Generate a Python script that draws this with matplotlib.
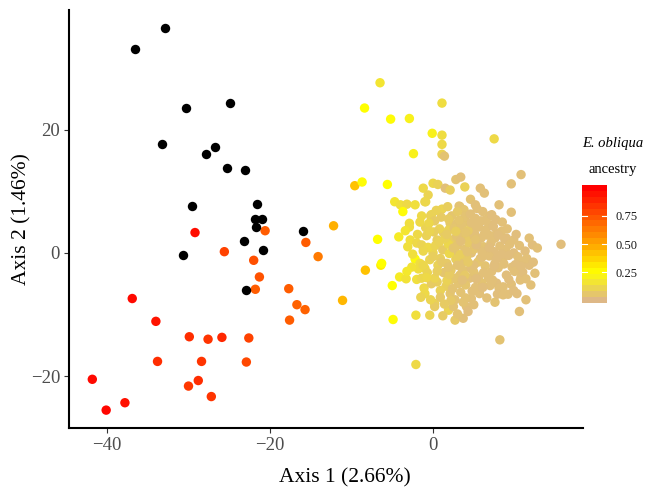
import matplotlib

matplotlib.use("Agg")
import matplotlib.pyplot as plt
import numpy as np
from matplotlib.colors import LinearSegmentedColormap

plt.rcParams["font.family"] = ["Liberation Serif", "DejaVu Serif"]

# pure E. obliqua individuals (drawn black)
black_x = [-36.6, -32.9, -30.3, -24.9, -33.3, -26.8, -27.9, -25.3, -23.1, -29.6,
           -21.6, -21.8, -21.0, -21.7, -16.0, -23.2, -20.9, -30.7, -22.9]
black_y = [33.0, 36.5, 23.5, 24.3, 17.6, 17.2, 16.1, 13.8, 13.5, 7.6,
           7.9, 5.5, 5.5, 4.2, 3.5, 2.0, 0.5, -0.4, -6.0]

# hybrid group left of the main cloud
hyb_x = [-29.2, -20.6, -25.6, -22.0, -15.6, -14.1, -12.2, -21.3, -21.8, -17.7,
         -16.7, -15.7, -17.6, -11.1, -36.9, -34.0, -29.9, -27.6, -25.9, -22.6,
         -33.8, -28.4, -22.9, -41.8, -30.0, -28.8, -27.2, -37.8, -40.1]
hyb_y = [3.3, 3.6, 0.2, -1.2, 1.7, -0.6, 4.4, -3.9, -5.9, -5.8,
         -8.4, -9.2, -10.9, -7.7, -7.4, -11.1, -13.6, -14.0, -13.7, -13.8,
         -17.6, -17.6, -17.7, -20.5, -21.6, -20.7, -23.3, -24.3, -25.5]
hyb_anc = [0.96, 0.72, 0.80, 0.76, 0.72, 0.63, 0.47, 0.75, 0.72, 0.72,
           0.70, 0.70, 0.72, 0.45, 0.97, 0.94, 0.86, 0.84, 0.88, 0.80,
           0.86, 0.84, 0.78, 0.97, 0.83, 0.86, 0.84, 0.95, 0.98]

# main cloud
cloud_x = [-6.5, -8.4, -5.2, -2.9, 1.1, -0.1, 1.1, 1.1, -2.4, 1.1, 1.4, 7.5, 10.8, 9.6,
           -9.6, -8.7, -5.6, -1.2, -0.6, 0.0, 0.6, 1.5, 2.1, 2.8, 3.4, 3.9, 5.8, 6.3,
           4.6, 5.2, 3.3, 3.7, 1.1, 1.8, -1.4, -0.2, 8.1, 9.6, 6.9, -4.7, -4.0, -3.2,
           -2.2, -3.7, -1.0, -0.9, 3.2, 3.8, 5.4, -0.3, -2.9, -2.9, -0.9, 0.2, 2.1,
           2.9, 4.1, 4.9, 5.8, 6.9, -4.2, -6.8, -2.8, -2.0, -1.4, 0.5, 1.3, 1.9, 3.3,
           4.5, 5.4, 6.6, 7.8, 9.0, 9.9, 12.2, 12.8, 15.7, -2.2, -1.6, -1.0, 0.0, 0.9,
           1.7, 2.7, 3.7, 4.7, 5.8, 6.8, 7.6, 8.6, 9.9, 10.9, 11.8, -6.4, -6.3, -8.3,
           -4.1, -3.3, -5.0, -2.0, -1.4, -1.1, -1.0, 0.5, 2.1, 3.3, 4.5, 5.6, 6.8,
           7.8, 8.6, 9.2, 10.3, 10.7, 12.0, 0.2, 0.2, 2.1, 2.7, 1.9, 2.5, 4.1, 4.3,
           4.7, 2.7, 3.7, -0.4, -2.1, -4.9, 7.6, 11.4, 10.6, 8.2, -2.1, 10.8,
           0.8, 2.4, 3.0, 3.9, 4.4, 5.1, 5.9, 6.2, 7.1, 7.5, 8.2, 8.9, 9.3, 8.0, 7.2,
           6.4, 5.5, 4.6, 3.6, 2.8, 2.2, 1.3, 0.6, -0.4, -0.6, 0.3, 1.2, 1.9, 2.6,
           3.5, 4.3, 5.6, 6.5, 7.4, 8.4, 9.1, 10.2, 10.6, 11.3, 10.4, 11.0, 9.7, 9.0,
           8.1, 7.0, 6.0, 5.2, 4.0, 3.1, 1.6, 0.9, -0.2, -0.7, -1.8, -2.5, -1.2, -1.9,
           -0.8, 0.1, 1.0, 2.3, 3.9, 4.6, 5.2, 6.1, 7.7, 8.5, -3.4, -3.1, -2.6, -3.2,
           -1.5, 0.9, 3.4, 5.7, 6.6, 3.0, 1.2, 5.0, 7.9, 9.6, 10.1, 11.5, 12.3, 12.5,
           11.8, 6.9, 5.0, 4.1, 3.3, 2.0, 1.5, 2.9, 4.0, 6.0, 7.8, 8.7, 6.2, 5.0, 3.9,
           2.7, 1.7, 0.2, -0.8, 4.7, 3.2, 1.9, 0.4, -1.6, -0.5, 8.8, 7.0, 6.4, 2.2,
           4.0, -0.3,
           2.5, 3.4, 4.2, 5.3, 6.0, 6.9, 7.6, 5.0, 4.3, 3.0, 2.0, 3.6, 5.3, 6.8, 7.5,
           8.4, 9.4, 8.0, 6.3, 5.2, 4.0, 2.8, 1.7, 0.8, 0.0, 1.1, 1.9, 2.4, 4.8, 6.1,
           7.3, 9.3, 10.0, 10.8, 11.4, 9.9, 8.6, 3.7, 1.4, 5.9, 7.2, 3.0, -0.4, -1.2, 0.5]
cloud_y = [27.6, 23.5, 21.7, 21.8, 24.3, 19.4, 19.1, 17.6, 16.1, 16.0, 15.7, 18.5, 12.7, 11.2,
           10.9, 11.5, 11.1, 10.5, 9.4, 11.3, 11.1, 10.5, 10.2, 11.9, 12.3, 10.7, 10.5, 9.7,
           8.7, 7.8, 7.5, 7.0, 7.1, 7.5, 6.0, 6.2, 7.8, 6.6, 6.0, 8.3, 7.8, 7.9,
           7.8, 6.7, 8.3, 8.3, 7.6, 7.0, 7.2, 6.0, 4.8, 4.2, 4.1, 5.2, 4.8,
           4.7, 5.0, 4.4, 5.1, 4.6, 2.6, 2.2, 2.1, 1.6, 1.3, 2.1, 3.2, 3.7, 3.2,
           2.7, 1.8, 2.9, 3.2, 2.4, 2.1, 1.3, 0.8, 1.4, -1.0, -1.7, -2.5, 0.0, -0.9,
           -1.7, 0.2, -1.4, 0.0, -0.9, 0.5, -1.7, -0.9, 0.0, -1.4, -2.0, -2.0, -1.7, -2.8,
           -3.9, -4.2, -5.3, -4.3, -4.1, -5.7, -6.6, -4.7, -4.4, -3.6, -4.1, -3.9, -4.1,
           -4.9, -5.5, -6.7, -6.6, -4.4, -5.2, -8.2, -8.7, -6.6, -7.6, -9.3, -8.7, -8.7, -9.5,
           -7.4, -10.9, -10.6, -10.1, -10.1, -10.8, -8.0, -7.6, -9.5, -14.1, -18.1, -3.9,
           3.9, 2.1, 1.2, 0.6, 1.6, 3.1, 2.4, 1.0, 1.6, 0.2, 1.1, 0.6, -0.4, -2.4, -3.0,
           -2.1, -1.5, -2.5, -2.7, -1.0, -2.8, -3.2, -2.0, -1.1, 0.9, 1.2, 0.5, 1.4, 4.0,
           4.5, 3.6, 4.2, 3.8, 4.3, 3.5, 3.9, 3.0, 1.2, 0.3, -0.6, -3.1, -2.3, -3.6,
           -5.7, -5.3, -4.9, -5.6, -5.2, -5.0, -5.4, -6.1, -5.0, -3.2, -2.6, -0.2, 0.3, 3.0,
           2.8, 3.4, 5.8, 6.0, 5.9, 6.3, 5.6, 6.7, 5.4, 5.0, 3.6, 1.0, -2.3, -3.0,
           -7.2, -7.2, -6.4, -6.6, -7.3, -9.9, -10.2, -8.4, -6.7, -5.1, -1.9, -0.9, -1.5, -3.3,
           2.4, -0.5, 0.6, -0.7, -0.3, -0.1, 2.4, 2.7, 2.3, 0.2, -1.0, -1.8, -3.2, -3.1, -3.6,
           -4.1, -4.5, -4.1, -4.0, 4.9, 5.3, 5.5, 6.9, 5.0, 4.8, 2.2, 2.8, 5.3, -7.7,
           -7.3, -7.6,
           0.8, 1.9, 0.2, 1.3, -0.7, 0.9, 2.4, -2.0, -1.5, -2.0, -3.5, -4.4, -4.2, -3.6, -2.1,
           -0.2, 1.4, 2.9, 3.1, 2.2, 3.3, 3.5, 3.0, 1.8, -0.6, -1.5, -2.3, -5.8, -6.2, -5.6,
           -4.4, -4.3, -3.0, -2.2, -4.2, -6.1, -6.8, -8.0, -8.3, 5.2, 6.2, 6.7, 3.5, -2.0, -3.0]
cloud_anc = [0.16, 0.25, 0.24, 0.20, 0.13, 0.20, 0.13, 0.12, 0.20, 0.10, 0.04, 0.12, 0.03, 0.03,
             0.42, 0.24, 0.25, 0.12, 0.10, 0.11, 0.09, 0.03, 0.08, 0.04, 0.03, 0.09, 0.03, 0.03,
             0.04, 0.03, 0.05, 0.04, 0.10, 0.08, 0.12, 0.10, 0.03, 0.03, 0.04, 0.16, 0.14, 0.12,
             0.14, 0.24, 0.10, 0.11, 0.04, 0.05, 0.03, 0.09, 0.14, 0.13, 0.09, 0.07, 0.06,
             0.04, 0.05, 0.03, 0.03, 0.03, 0.18, 0.25, 0.14, 0.12, 0.10, 0.08, 0.07, 0.09, 0.04,
             0.03, 0.03, 0.03, 0.03, 0.02, 0.03, 0.02, 0.03, 0.02, 0.23, 0.13, 0.12, 0.10, 0.08,
             0.06, 0.04, 0.04, 0.03, 0.03, 0.02, 0.03, 0.03, 0.02, 0.03, 0.02, 0.30, 0.25, 0.42,
             0.18, 0.15, 0.25, 0.14, 0.11, 0.12, 0.12, 0.08, 0.06, 0.04, 0.03, 0.03, 0.03,
             0.02, 0.03, 0.03, 0.02, 0.03, 0.03, 0.09, 0.07, 0.05, 0.04, 0.10, 0.04, 0.03, 0.02,
             0.03, 0.06, 0.03, 0.10, 0.14, 0.24, 0.04, 0.03, 0.03, 0.04, 0.12, 0.03,
             0.09, 0.07, 0.05, 0.04, 0.06, 0.03, 0.03, 0.04, 0.03, 0.02, 0.03, 0.03, 0.02, 0.03, 0.03,
             0.04, 0.05, 0.03, 0.04, 0.08, 0.06, 0.05, 0.09, 0.10, 0.12, 0.10, 0.07, 0.11, 0.05,
             0.04, 0.06, 0.03, 0.03, 0.02, 0.03, 0.03, 0.02, 0.03, 0.02, 0.03, 0.02, 0.03, 0.02,
             0.03, 0.03, 0.04, 0.03, 0.05, 0.04, 0.08, 0.09, 0.07, 0.10, 0.13, 0.14, 0.11, 0.12,
             0.09, 0.08, 0.07, 0.05, 0.04, 0.03, 0.03, 0.03, 0.02, 0.03, 0.16, 0.14, 0.15, 0.17,
             0.10, 0.06, 0.04, 0.03, 0.03, 0.04, 0.07, 0.03, 0.02, 0.03, 0.02, 0.03, 0.02, 0.03,
             0.03, 0.03, 0.05, 0.06, 0.08, 0.11, 0.09, 0.04, 0.06, 0.03, 0.02, 0.03, 0.03, 0.04, 0.06,
             0.05, 0.09, 0.10, 0.12, 0.03, 0.05, 0.07, 0.09, 0.12, 0.11, 0.02, 0.03, 0.03, 0.06,
             0.04, 0.10,
             0.05, 0.03, 0.04, 0.02, 0.03, 0.02, 0.03, 0.03, 0.06, 0.04, 0.07, 0.03, 0.02, 0.03, 0.02,
             0.02, 0.03, 0.02, 0.03, 0.04, 0.05, 0.08, 0.07, 0.09, 0.08, 0.06, 0.05, 0.04, 0.03, 0.02,
             0.03, 0.02, 0.03, 0.02, 0.03, 0.02, 0.03, 0.04, 0.07, 0.03, 0.02, 0.06, 0.10, 0.11, 0.08]

cbar_ticks = [0.25, 0.50, 0.75]

cmap = LinearSegmentedColormap.from_list(
    "anc", [(0.0, "#DEB887"), (0.25, "#FFFF00"), (0.5, "#FFA500"), (1.0, "#FF0000")]
)

fig = plt.figure(figsize=(6.46, 4.92), dpi=100)
ax = fig.add_axes([69 / 646, 64 / 492, 514 / 646, 418 / 492])

ax.scatter(cloud_x, cloud_y, c=cloud_anc, cmap=cmap, vmin=0, vmax=1, s=46, linewidths=0, zorder=2)
ax.scatter(hyb_x, hyb_y, c=hyb_anc, cmap=cmap, vmin=0, vmax=1, s=46, linewidths=0, zorder=3)
ax.scatter(black_x, black_y, color="black", s=46, linewidths=0, zorder=4)

ax.set_xlim(-44.66, 18.4)
ax.set_ylim(-28.4, 39.4)
ax.set_xticks([-40, -20, 0])
ax.set_yticks([-20, 0, 20])
for side in ["top", "right"]:
    ax.spines[side].set_visible(False)
for side in ["left", "bottom"]:
    ax.spines[side].set_linewidth(1.5)
ax.tick_params(length=3.5, width=0.8, color="#333333", labelsize=13.5, labelcolor="#4D4D4D", pad=3)

fig.text(345 / 646, 1 - 478 / 492, "Axis 1 (2.66%)", ha="center", va="center", fontsize=15.5)
fig.text(22 / 646, 1 - 219 / 492, "Axis 2 (1.46%)", ha="center", va="center", rotation=90, fontsize=15.5)

# colour bar, drawn as 20 bands like ggplot's legend
cax = fig.add_axes([582 / 646, (492 - 303) / 492, 25 / 646, 118 / 492])
centers = np.linspace(0, 1, 20)
half = 1 / 38
edges = np.concatenate([centers - half, [1 + half]])
cax.pcolormesh([0, 1], edges, centers[:, None], cmap=cmap, vmin=0, vmax=1, shading="flat")
cax.set_xlim(0, 1)
cax.set_ylim(edges[0], edges[-1])
cax.set_xticks([])
for sp in cax.spines.values():
    sp.set_visible(False)
cax.yaxis.tick_right()
cax.set_yticks(cbar_ticks)
cax.set_yticklabels(["%.2f" % t for t in cbar_ticks])
cax.tick_params(axis="y", length=0, labelsize=9, pad=6, labelcolor="#1a1a1a")
for t in cbar_ticks:
    cax.plot([0, 0.2], [t, t], color="white", lw=0.8)
    cax.plot([0.8, 1], [t, t], color="white", lw=0.8)

fig.text(613 / 646, 1 - 144 / 492, "E. obliqua", ha="center", va="center", fontsize=10.5, style="italic")
fig.text(613 / 646, 1 - 169 / 492, "ancestry", ha="center", va="center", fontsize=10.5)

fig.savefig("out.png", dpi=100)
